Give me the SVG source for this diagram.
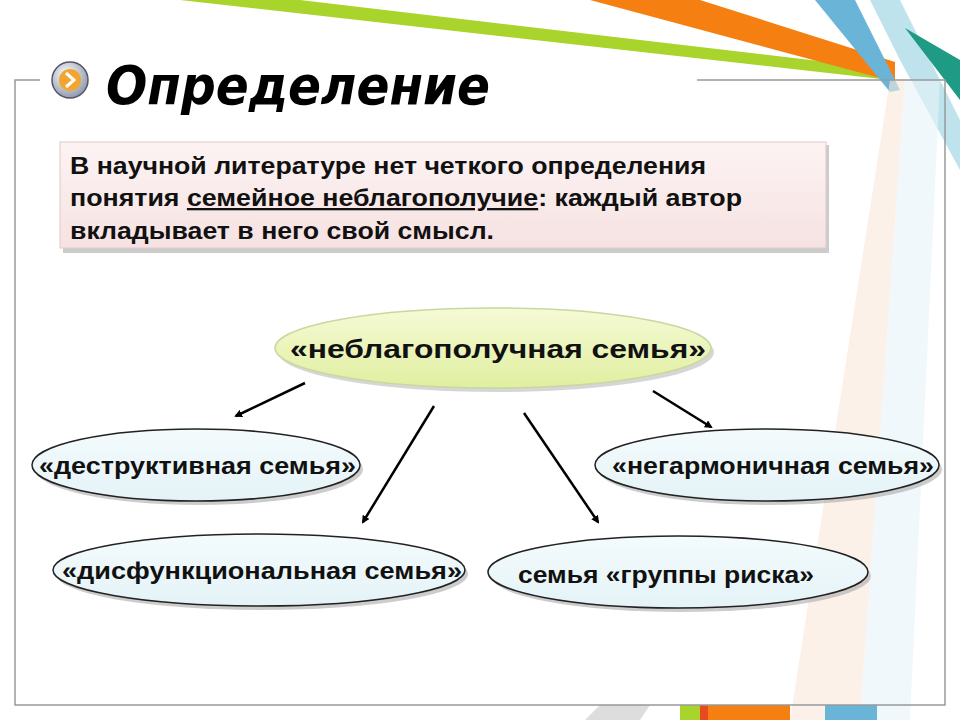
<svg xmlns="http://www.w3.org/2000/svg" width="960" height="720" viewBox="0 0 960 720">
<defs>
<style>
.t{font-family:"Liberation Sans",Arial,sans-serif;font-weight:bold;fill:#111}
.e{stroke:#222;stroke-width:1.5}
.a{stroke:#000;stroke-width:2.5;fill:none;marker-end:url(#ah)}
</style>
<marker id="ah" markerWidth="8" markerHeight="8" refX="6" refY="4" orient="auto" markerUnits="userSpaceOnUse"><path d="M0,0 L8,4 L0,8 Z" fill="#000"/></marker>
<linearGradient id="gb" x1="0" y1="0" x2="0" y2="1"><stop offset="0" stop-color="#f4fbfc"/><stop offset="1" stop-color="#e4f3f7"/></linearGradient>
<linearGradient id="gg" x1="0" y1="0" x2="0" y2="1"><stop offset="0" stop-color="#f6fad6"/><stop offset="1" stop-color="#e0efa0"/></linearGradient>
<linearGradient id="gp" x1="0" y1="0" x2="0" y2="1"><stop offset="0" stop-color="#fdf3f3"/><stop offset="1" stop-color="#f6e2e2"/></linearGradient>
<radialGradient id="gi" cx="0.4" cy="0.35" r="0.7"><stop offset="0" stop-color="#fff"/><stop offset="1" stop-color="#8a94a8"/></radialGradient>
</defs>
<rect width="960" height="720" fill="#fff"/>
<g id="background">
<polygon points="180,0 300,0 895,70 890,80" fill="#a8d42c"/>
<polygon points="590,0 700,0 895,62 895,82" fill="#f57f10"/>
<polygon points="815,0 855,0 900,90 890,92" fill="#6ab4d8"/>
<polygon points="870,0 900,0 960,120 960,170 900,60" fill="#bfe3ec"/>
<polygon points="905,28 960,60 960,100" fill="#1f9a84"/>
<polygon points="890,80 905,80 860,720 790,720" fill="#f8e8d8" opacity="0.6"/>
<polygon points="905,80 940,80 910,720 860,720" fill="#e8f4f8" opacity="0.6"/>
<rect x="680" y="705" width="20" height="15" fill="#a8d42c"/>
<rect x="700" y="705" width="8" height="15" fill="#e84a20"/>
<rect x="708" y="705" width="82" height="15" fill="#f57f10"/>
<rect x="825" y="705" width="52" height="15" fill="#6ab4d8"/>
<polygon points="585,720 600,705 650,705 640,720" fill="#ddd"/>
</g>
<g id="frame" fill="none" stroke="#999" stroke-width="1.5">
<polyline points="40,80 15,80 15,705 945,705 945,80 697,80"/>
</g>
<g id="title">
<circle cx="70" cy="80" r="18" fill="url(#gi)" stroke="#556" stroke-width="1.5"/>
<circle cx="70" cy="80" r="11" fill="#f2a530"/>
<path d="M66,73 L74,80 L66,87" fill="none" stroke="#fff" stroke-width="3"/>
<text x="106" y="104" font-family="'Comic Sans MS','DejaVu Sans',sans-serif" font-style="italic" font-weight="bold" font-size="54" fill="#000" textLength="384" lengthAdjust="spacingAndGlyphs">Определение</text>
</g>
<g id="intro">
<rect x="63" y="145" width="766" height="108" fill="#ccc"/>
<rect x="60" y="142" width="766" height="106" fill="url(#gp)" stroke="#e0caca"/>
<text class="t" font-size="23"><tspan x="70" y="174" textLength="636" lengthAdjust="spacingAndGlyphs">В научной литературе нет четкого определения</tspan></text>
<text class="t" font-size="23" x="70" y="206" textLength="672" lengthAdjust="spacingAndGlyphs">понятия <tspan text-decoration="underline">семейное неблагополучие</tspan>: каждый автор</text>
<text class="t" font-size="23" x="70" y="239" textLength="424" lengthAdjust="spacingAndGlyphs">вкладывает в него свой смысл.</text>
</g>
<g id="connectors">
<line class="a" x1="305" y1="383" x2="236" y2="416"/>
<line class="a" x1="434" y1="406" x2="363" y2="522"/>
<line class="a" x1="524" y1="413" x2="598" y2="522"/>
<line class="a" x1="653" y1="391" x2="711" y2="427"/>
</g>
<g id="n-main">
<ellipse cx="496" cy="352" rx="218" ry="40" fill="#bbb" opacity="0.6"/>
<ellipse cx="493" cy="348" rx="218" ry="40" fill="url(#gg)" stroke="#c8d8a0" stroke-width="1.5"/>
<text class="t" x="290" y="358" font-size="26" textLength="416" lengthAdjust="spacingAndGlyphs">«неблагополучная семья»</text>
</g>
<g id="n-destr">
<ellipse cx="199" cy="469" rx="164" ry="36" fill="#aaa" opacity="0.6"/>
<ellipse cx="196" cy="465" rx="164" ry="36" fill="url(#gb)" class="e"/>
<text class="t" x="39" y="474" font-size="24" textLength="317" lengthAdjust="spacingAndGlyphs">«деструктивная семья»</text>
</g>
<g id="n-negarm">
<ellipse cx="770" cy="469" rx="172" ry="36" fill="#aaa" opacity="0.6"/>
<ellipse cx="767" cy="465" rx="172" ry="36" fill="url(#gb)" class="e"/>
<text class="t" x="612" y="474" font-size="24" textLength="322" lengthAdjust="spacingAndGlyphs">«негармоничная семья»</text>
</g>
<g id="n-disf">
<ellipse cx="262" cy="574" rx="206" ry="36" fill="#aaa" opacity="0.6"/>
<ellipse cx="259" cy="570" rx="206" ry="36" fill="url(#gb)" class="e"/>
<text class="t" x="62" y="579" font-size="24" textLength="400" lengthAdjust="spacingAndGlyphs">«дисфункциональная семья»</text>
</g>
<g id="n-risk">
<ellipse cx="681" cy="576" rx="190" ry="36" fill="#aaa" opacity="0.6"/>
<ellipse cx="678" cy="572" rx="190" ry="36" fill="url(#gb)" class="e"/>
<text class="t" x="518" y="583" font-size="24" textLength="296" lengthAdjust="spacingAndGlyphs">семья «группы риска»</text>
</g>
</svg>
